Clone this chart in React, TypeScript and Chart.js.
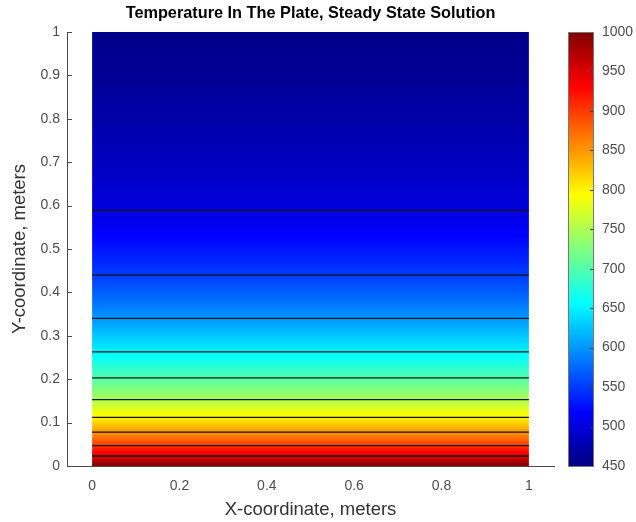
import React, { useEffect, useRef } from "react";
import { Chart, registerables } from "chart.js";

Chart.register(...registerables);

// ---------------- data ----------------
const titleText = "Temperature In The Plate, Steady State Solution";
const xLabel = "X-coordinate, meters";
const yLabel = "Y-coordinate, meters";

const xTicks = [0, 0.2, 0.4, 0.6, 0.8, 1];
const yTicks = [0, 0.1, 0.2, 0.3, 0.4, 0.5, 0.6, 0.7, 0.8, 0.9, 1];
const colorbarTicks = [450, 500, 550, 600, 650, 700, 750, 800, 850, 900, 950, 1000];
const tempMin = 450;
const tempMax = 1000;

// contour levels and the height (y, meters) where each lies
const contourLevels = [500, 550, 600, 650, 700, 750, 800, 850, 900, 950];
const contourY = [0.589, 0.44, 0.34, 0.263, 0.203, 0.153, 0.112, 0.078, 0.047, 0.023];

// temperature profile across the plate height (for the shaded fill)
const profileY = [0, 0.023, 0.047, 0.078, 0.112, 0.153, 0.203, 0.263, 0.34, 0.44, 0.589, 0.7, 0.8, 0.9, 1];
const profileT = [1000, 950, 900, 850, 800, 750, 700, 650, 600, 550, 500, 484, 472, 462, 455];

const plateX = [0, 1];

// ---------------- helpers ----------------
const FONT = "'Liberation Sans', Arial, Helvetica, sans-serif";
const AXIS_COLOR = "#4a4a4a";
const TICK_TEXT = "#4d4d4d";
const LABEL_TEXT = "#333333";

function jet(t: number): string {
  const c = (v: number) => Math.max(0, Math.min(1, v));
  const r = c(1.5 - Math.abs(4 * t - 3));
  const g = c(1.5 - Math.abs(4 * t - 2));
  const b = c(1.5 - Math.abs(4 * t - 1));
  return `rgb(${Math.round(r * 255)},${Math.round(g * 255)},${Math.round(b * 255)})`;
}

function tempAt(y: number): number {
  for (let i = 0; i < profileY.length - 1; i++) {
    if (y >= profileY[i] && y <= profileY[i + 1]) {
      const f = (y - profileY[i]) / (profileY[i + 1] - profileY[i]);
      return profileT[i] + f * (profileT[i + 1] - profileT[i]);
    }
  }
  return profileT[profileT.length - 1];
}

function plateGradient(chart: any) {
  const { ctx, chartArea, scales } = chart;
  if (!chartArea) return "rgba(0,0,0,0)";
  const y = scales.y;
  const p0 = y.getPixelForValue(0);
  const p1 = y.getPixelForValue(1);
  const g = ctx.createLinearGradient(0, p0, 0, p1);
  const N = 200;
  for (let i = 0; i <= N; i++) {
    const yy = i / N;
    const T = tempAt(yy);
    g.addColorStop(i / N, jet((T - tempMin) / (tempMax - tempMin)));
  }
  return g;
}

function colorbarGradient(chart: any) {
  const { ctx, chartArea, scales } = chart;
  if (!chartArea) return "rgba(0,0,0,0)";
  const y = scales.y;
  const p0 = y.getPixelForValue(tempMin);
  const p1 = y.getPixelForValue(tempMax);
  const g = ctx.createLinearGradient(0, p0, 0, p1);
  const N = 64;
  for (let i = 0; i <= N; i++) {
    g.addColorStop(i / N, jet(i / N));
  }
  return g;
}

const mainDecor = {
  id: "mainDecor",
  afterDraw(chart: any) {
    const { ctx, chartArea, scales } = chart;
    ctx.save();
    // inward y tick marks
    ctx.strokeStyle = AXIS_COLOR;
    ctx.lineWidth = 1;
    ctx.beginPath();
    for (const v of yTicks) {
      const py = Math.round(scales.y.getPixelForValue(v)) + 0.5;
      ctx.moveTo(chartArea.left, py);
      ctx.lineTo(chartArea.left + 5, py);
    }
    ctx.stroke();
    // title
    ctx.fillStyle = "#000";
    ctx.font = `bold 16.3px ${FONT}`;
    ctx.textAlign = "center";
    ctx.textBaseline = "middle";
    ctx.fillText(titleText, (chartArea.left + chartArea.right) / 2, 14);
    ctx.restore();
  },
};

const cbDecor = {
  id: "cbDecor",
  afterDraw(chart: any) {
    const { ctx, chartArea, scales } = chart;
    ctx.save();
    ctx.strokeStyle = "#3a3a3a";
    ctx.lineWidth = 1;
    ctx.beginPath();
    for (const v of colorbarTicks) {
      const py = Math.round(scales.y.getPixelForValue(v)) + 0.5;
      ctx.moveTo(chartArea.right, py);
      ctx.lineTo(chartArea.right - 4, py);
    }
    ctx.stroke();
    ctx.strokeStyle = "#777";
    ctx.strokeRect(
      Math.round(chartArea.left) + 0.5,
      Math.round(chartArea.top) + 0.5,
      Math.round(chartArea.right - chartArea.left) - 1,
      Math.round(chartArea.bottom - chartArea.top)
    );
    ctx.restore();
  },
};

export default function App() {
  const mainRef = useRef<HTMLCanvasElement | null>(null);
  const cbRef = useRef<HTMLCanvasElement | null>(null);

  useEffect(() => {
    Chart.defaults.font.family = FONT;
    const main = new Chart(mainRef.current as HTMLCanvasElement, {
      type: "line",
      data: {
        datasets: [
          {
            label: "plate",
            data: plateX.map((x) => ({ x, y: 1 })),
            fill: "origin",
            backgroundColor: (ctx: any) => plateGradient(ctx.chart),
            borderWidth: 0,
            borderColor: "rgba(0,0,0,0)",
            pointRadius: 0,
            order: 10,
          } as any,
          ...contourLevels.map((lvl, i) => ({
            label: String(lvl),
            data: plateX.map((x) => ({ x, y: contourY[i] })),
            borderColor: "#151515",
            borderWidth: 1.3,
            pointRadius: 0,
            fill: false,
            order: 0,
          })),
        ],
      },
      options: {
        animation: false,
        responsive: false,
        layout: { padding: { left: 0, right: 82, top: 32, bottom: 0 } },
        plugins: {
          legend: { display: false },
          tooltip: { enabled: false },
          title: { display: false },
        },
        scales: {
          x: {
            type: "linear",
            min: -0.0575,
            max: 1.0575,
            afterBuildTicks: (s: any) => {
              s.ticks = xTicks.map((v) => ({ value: v }));
            },
            afterFit: (s: any) => {
              s.height = 56;
            },
            ticks: {
              callback: (v: any) => String(v),
              color: TICK_TEXT,
              font: { size: 14 },
              padding: 12,
              maxRotation: 0,
              autoSkip: false,
            },
            grid: { display: false, drawTicks: false },
            border: { display: true, color: AXIS_COLOR, width: 1 },
            title: {
              display: true,
              text: xLabel,
              color: LABEL_TEXT,
              font: { size: 18.5 },
              padding: { top: 0, bottom: 1 },
            },
          },
          y: {
            type: "linear",
            min: 0,
            max: 1,
            afterBuildTicks: (s: any) => {
              s.ticks = yTicks.map((v) => ({ value: v }));
            },
            afterFit: (s: any) => {
              s.width = 67;
            },
            ticks: {
              callback: (v: any) => String(v),
              color: TICK_TEXT,
              font: { size: 14 },
              padding: 7,
              autoSkip: false,
            },
            grid: { display: false, drawTicks: false },
            border: { display: true, color: AXIS_COLOR, width: 1 },
            title: {
              display: true,
              text: yLabel,
              color: LABEL_TEXT,
              font: { size: 18.5 },
              padding: { top: 9, bottom: 0 },
            },
          },
        },
      } as any,
      plugins: [mainDecor],
    });

    const cb = new Chart(cbRef.current as HTMLCanvasElement, {
      type: "bar",
      data: {
        labels: ["T"],
        datasets: [
          {
            label: "colorbar",
            data: [[tempMin, tempMax]] as any,
            backgroundColor: (ctx: any) => colorbarGradient(ctx.chart),
            borderWidth: 0,
            barPercentage: 1,
            categoryPercentage: 1,
          },
        ],
      },
      options: {
        animation: false,
        responsive: false,
        layout: { padding: { left: 8, right: 0, top: 32, bottom: 56 } },
        plugins: {
          legend: { display: false },
          tooltip: { enabled: false },
        },
        scales: {
          x: { display: false },
          y: {
            position: "right",
            min: tempMin,
            max: tempMax,
            afterBuildTicks: (s: any) => {
              s.ticks = colorbarTicks.map((v) => ({ value: v }));
            },
            afterFit: (s: any) => {
              s.width = 42;
            },
            ticks: {
              callback: (v: any) => String(v),
              color: TICK_TEXT,
              font: { size: 14 },
              padding: 8,
              autoSkip: false,
            },
            grid: { display: false, drawTicks: false },
            border: { display: false },
          },
        },
      } as any,
      plugins: [cbDecor],
    });

    return () => {
      main.destroy();
      cb.destroy();
    };
  }, []);

  return (
    <div style={{ position: "fixed", left: 0, top: 0, width: 636, height: 522, background: "#fff" }}>
      <canvas
        ref={mainRef}
        width={636}
        height={522}
        style={{ position: "absolute", left: 0, top: 0, width: 636, height: 522 }}
      />
      <canvas
        ref={cbRef}
        width={76}
        height={522}
        style={{ position: "absolute", left: 560, top: 0, width: 76, height: 522 }}
      />
    </div>
  );
}
